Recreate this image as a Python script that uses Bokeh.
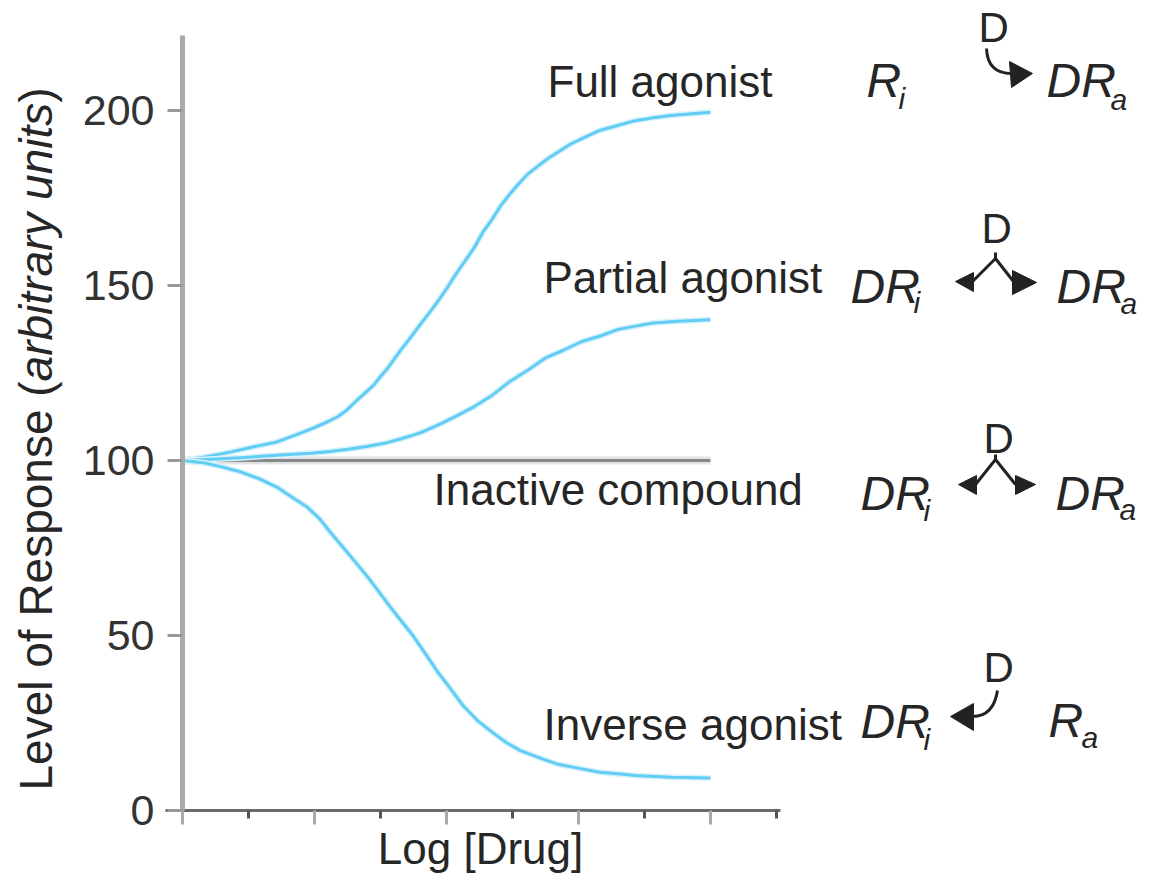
import math
from bokeh.plotting import figure
from bokeh.models import FixedTicker, Range1d, CustomLabelingPolicy
from bokeh.core.properties import value
from bokeh.embed import file_html
from bokeh.resources import INLINE

# ---------------- data ----------------
x_full = [0, 0.34, 0.72, 1.05, 1.43, 1.70, 1.97, 2.19, 2.35, 2.49, 2.62, 2.76, 2.90, 3.0,
          3.11, 3.22, 3.33, 3.47, 3.60, 3.74, 3.87, 4.01, 4.14, 4.28, 4.42, 4.55, 4.69,
          4.82, 4.96, 5.09, 5.23, 5.39, 5.56, 5.72, 5.88, 6.10, 6.32, 6.59, 6.86, 7.13,
          7.40, 7.67, 8.0]
y_full = [100, 101.0, 102.4, 103.8, 105.3, 107.2, 109.2, 111.0, 112.5, 114.4, 116.8, 119.2,
          121.6, 124.0, 126.4, 129.3, 132.1, 135.5, 138.8, 142.2, 145.5, 149.3, 153.2,
          157.0, 160.8, 165.2, 168.9, 172.8, 176.1, 179.0, 181.8, 184.2, 186.6, 188.5,
          190.4, 192.4, 194.3, 195.7, 197.1, 197.9, 198.6, 199.0, 199.5]

x_part = [0, 0.5, 0.89, 1.43, 1.95, 2.24, 2.51, 2.79, 3.06, 3.33, 3.60, 3.87, 4.14, 4.42,
          4.69, 4.96, 5.23, 5.50, 5.77, 6.05, 6.32, 6.59, 6.86, 7.13, 7.51, 8.0]
y_part = [100, 100.4, 100.8, 101.5, 102.1, 102.6, 103.2, 104.0, 104.9, 106.3, 107.9, 110.1,
          112.6, 115.4, 118.6, 122.6, 125.8, 129.3, 131.5, 134.0, 135.5, 137.4, 138.4,
          139.3, 139.8, 140.2]

x_inact = [0, 8]
y_inact = [100, 100]

x_inv = [0, 0.34, 0.61, 0.89, 1.16, 1.43, 1.70, 1.89, 2.08, 2.24, 2.41, 2.60, 2.79, 2.98,
         3.17, 3.33, 3.49, 3.68, 3.87, 4.06, 4.25, 4.47, 4.69, 4.90, 5.12, 5.39, 5.67,
         5.99, 6.32, 6.59, 6.86, 7.40, 8.0]
y_inv = [100, 99.3, 98.1, 96.7, 94.8, 92.4, 89.0, 86.7, 83.3, 79.5, 75.7, 71.4, 67.1, 62.4,
         57.6, 53.8, 50.0, 44.8, 39.5, 34.8, 30.0, 25.7, 22.4, 19.5, 17.1, 15.2, 13.3,
         12.1, 10.95, 10.5, 10.0, 9.5, 9.3]

y_ticks = [0, 50, 100, 150, 200]
x_major_ticks = [0, 2, 4, 6, 8]
x_minor_ticks = [1, 3, 5, 7, 9]

curve_labels = ["Full agonist", "Partial agonist", "Inactive compound", "Inverse agonist"]
x_label = "Log [Drug]"
y_label_parts = ["Level of Response (", "arbitrary units", ")"]

# ---------------- layout helpers (reference pixel -> data) ----------------
W, H = 1137, 877
X0_PX, PX_PER_X = 182.0, 66.0
Y0_PX, PX_PER_Y = 810.0, 3.5
BASE_K = 0.36  # correction: rendered baseline sits ~0.36 em below the requested one


def dx(px):
    return (px - X0_PX) / PX_PER_X


def dy(py):
    return (Y0_PX - py) / PX_PER_Y


def by(py, size):
    """data y for a desired alphabetic baseline at reference pixel py"""
    return dy(py - BASE_K * size)


FONT = "Liberation Sans"
TXT = "#262626"
BLUE = "#62cdf4"

p = figure(width=W, height=H,
           x_range=Range1d(dx(0), dx(W)),
           y_range=Range1d(dy(H), dy(0)),
           output_backend="svg", toolbar_location=None,
           min_border=0, outline_line_color=None)
p.grid.visible = False
p.background_fill_color = "white"
p.border_fill_color = "white"

# ---------------- axes ----------------
xa = p.xaxis[0]
xa.fixed_location = 0
xa.bounds = (dx(165), dx(780))
xa.ticker = FixedTicker(ticks=x_major_ticks, minor_ticks=x_minor_ticks)
xa.axis_line_color = "#6a6a6a"
xa.axis_line_width = 3
xa.major_tick_in = 0
xa.major_tick_out = 14
xa.major_tick_line_color = "#aaaaaa"
xa.major_tick_line_width = 3
xa.minor_tick_in = 0
xa.minor_tick_out = 8
xa.minor_tick_line_color = "#555555"
xa.minor_tick_line_width = 3
xa.major_label_policy = CustomLabelingPolicy(code="return new Set()")

ya = p.yaxis[0]
ya.fixed_location = 0
ya.bounds = (0, dy(35))
ya.ticker = FixedTicker(ticks=y_ticks)
ya.axis_line_color = "#aaaaaa"
ya.axis_line_width = 5
ya.major_tick_in = 0
ya.major_tick_out = 15
ya.major_tick_line_color = "#999999"
ya.major_tick_line_width = 3
ya.minor_tick_line_color = None
ya.major_label_text_font = FONT
ya.major_label_text_font_size = "43px"
ya.major_label_text_color = "#333333"
ya.major_label_standoff = 13

# ---------------- curves ----------------
p.line(x_inact, y_inact, line_color="#e2e2e2", line_width=8)
p.line(x_inact, y_inact, line_color="#888888", line_width=3)
for xs, ys in [(x_full, y_full), (x_part, y_part), (x_inv, y_inv)]:
    p.line(xs, ys, line_color="#d8f2fc", line_width=6, line_join="round")
    p.line(xs, ys, line_color=BLUE, line_width=3, line_join="round")

# ---------------- curve labels ----------------
LS = 44
lab_px = [(547, 97), (543, 293), (433, 505), (543, 740)]
p.text(x=[dx(a) for a, b in lab_px], y=[by(b, LS) for a, b in lab_px], text=curve_labels,
       text_font=value(FONT), text_font_size=value(f"{LS}px"), text_color=TXT,
       text_baseline="alphabetic", text_align="left")

# x axis label (kept fully inside the canvas)
p.text(x=[dx(480)], y=[by(864, LS)], text=[x_label], text_font=value(FONT),
       text_font_size=value(f"{LS}px"), text_color=TXT, text_baseline="alphabetic",
       text_align="center")

# y axis label (mixed styles), reads bottom to top
YL_SIZE = 46
em = [8.893, 6.057, 0.333]
ystart = 790.0
styles = ["normal", "italic", "normal"]
for part, w, st in zip(y_label_parts, em, styles):
    p.text(x=[dx(52 - BASE_K * YL_SIZE)], y=[dy(ystart)], text=[part], angle=math.pi / 2,
           text_font=value(FONT), text_font_size=value(f"{YL_SIZE}px"), text_color=TXT,
           text_font_style=st, text_baseline="alphabetic", text_align="left")
    ystart -= w * YL_SIZE

# ---------------- reaction schemes on the right ----------------
S = -22  # horizontal shift of the whole scheme block so it fits the canvas


def sx(px):
    return dx(px + S)


BS, SS, DS = 48, 30, 42
big = [("R", 888, 97), ("DR", 1068, 97),
       ("DR", 872, 303), ("DR", 1078, 303),
       ("DR", 882, 510), ("DR", 1077, 510),
       ("DR", 882, 738), ("R", 1070, 737)]
p.text(x=[sx(a) for _, a, b in big], y=[by(b, BS) for _, a, b in big],
       text=[t for t, _, _ in big], text_font=value(FONT), text_font_size=value(f"{BS}px"),
       text_font_style="italic", text_color=TXT, text_baseline="alphabetic", text_align="left")

subs = [("i", 920, 109), ("a", 1132, 110),
        ("i", 935, 313), ("a", 1142, 314),
        ("i", 945, 521), ("a", 1141, 520),
        ("i", 945, 750), ("a", 1103, 748)]
p.text(x=[sx(a) for _, a, b in subs], y=[by(b, SS) for _, a, b in subs],
       text=[t for t, _, _ in subs], text_font=value(FONT), text_font_size=value(f"{SS}px"),
       text_font_style="italic", text_color=TXT, text_baseline="alphabetic", text_align="left")

ds = [(1000, 42), (1003, 243), (1005, 453), (1005, 682)]
p.text(x=[sx(a) for a, b in ds], y=[by(b, DS) for a, b in ds], text=["D"] * 4,
       text_font=value(FONT), text_font_size=value(f"{DS}px"), text_color=TXT,
       text_baseline="alphabetic", text_align="left")

ARROW = "#222222"
p.quadratic(x0=[sx(1008), sx(1019)], y0=[dy(48), dy(690)],
            x1=[sx(1033), sx(994)], y1=[dy(73), dy(716)],
            cx=[sx(1009), sx(1015)], cy=[dy(73), dy(716)],
            line_color=ARROW, line_width=3)
shafts = [[(994, 281), (1017, 258), (1035, 281)],
          [(997, 484), (1017, 459), (1037, 484)]]
p.multi_line(xs=[[sx(a) for a, b in s] for s in shafts],
             ys=[[dy(b) for a, b in s] for s in shafts],
             line_color=ARROW, line_width=3, line_join="round")
p.multi_line(xs=[[sx(1017), sx(1017)], [sx(1017), sx(1017)]],
             ys=[[dy(252), dy(260)], [dy(454), dy(461)]],
             line_color=ARROW, line_width=3)
heads = [[(1054, 73), (1031, 61), (1033, 87)],
         [(977, 281), (995, 272), (995, 291)],
         [(1058, 282), (1034, 270), (1034, 294)],
         [(980, 484), (998, 475), (998, 494)],
         [(1057, 484), (1037, 475), (1037, 494)],
         [(972, 716), (995, 703), (995, 730)]]
p.patches(xs=[[sx(a) for a, b in h] for h in heads],
          ys=[[dy(b) for a, b in h] for h in heads],
          fill_color=ARROW, line_color=ARROW, line_width=1)

open("out.html", "w").write(file_html(p, INLINE))
